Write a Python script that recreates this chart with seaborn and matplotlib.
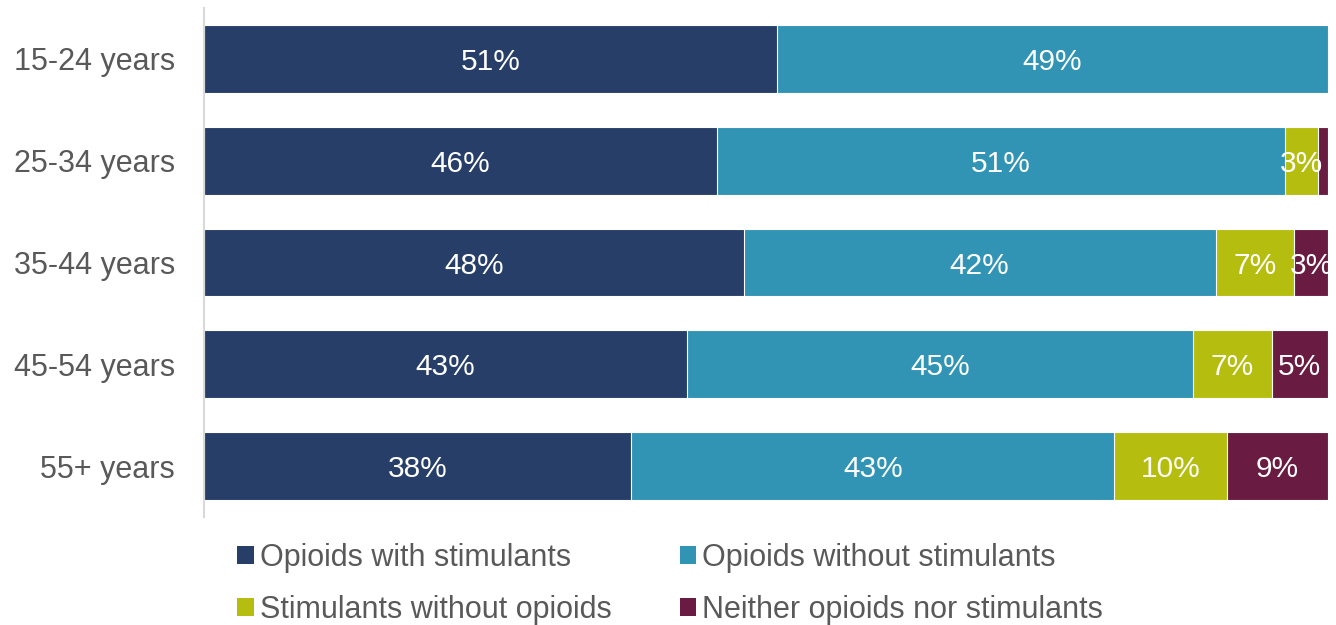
import matplotlib
matplotlib.use("Agg")
import matplotlib.pyplot as plt
from matplotlib.patches import Patch
import numpy as np
import pandas as pd
import seaborn as sns

# Share of deaths by substance involvement, per age group (percent)
age_groups = ["15-24 years", "25-34 years", "35-44 years", "45-54 years", "55+ years"]
series_names = [
    "Opioids with stimulants",
    "Opioids without stimulants",
    "Stimulants without opioids",
    "Neither opioids nor stimulants",
]
opioids_with_stim = [51, 45.6, 48, 43, 38]
opioids_without_stim = [49, 50.6, 42, 45, 43]
stim_without_opioids = [0, 2.9, 7, 7, 10]
neither = [0, 0.9, 3, 5, 9]

colors = ["#273E69", "#3194B4", "#B5BE0E", "#6A1B41"]
text_grey = "#595959"

sns.set_theme(style="white")
plt.rcParams["font.family"] = ["Liberation Sans", "DejaVu Sans"]

values = np.array([opioids_with_stim, opioids_without_stim, stim_without_opioids, neither])
cum = np.cumsum(values, axis=0)

fig = plt.figure(figsize=(13.36, 6.25), dpi=100)
ax = fig.add_axes([204 / 1336, 1 - 517 / 625, 1124 / 1336, 509 / 625])

# Stacked bars: draw cumulative totals from the outermost segment inward
for i in range(len(series_names) - 1, -1, -1):
    df = pd.DataFrame({"age": age_groups, "value": cum[i]})
    sns.barplot(data=df, x="value", y="age", orient="h", color=colors[i],
                saturation=1, width=0.667, edgecolor="white", linewidth=0.8, ax=ax)

# Segment labels
for i in range(len(series_names)):
    for j, age in enumerate(age_groups):
        v = values[i, j]
        if v < 2:
            continue
        center = cum[i, j] - v / 2
        ax.text(center, j + 0.03, f"{v:.0f}%", ha="center", va="center",
                color="white", fontsize=21.5)

ax.set_xlim(0, 100)
ax.set_ylim(4.5, -0.5)
ax.set_xlabel("")
ax.set_ylabel("")
ax.set_xticks([])
ax.tick_params(axis="y", length=0, pad=21, labelsize=22, labelcolor=text_grey)
for side in ["top", "right", "bottom"]:
    ax.spines[side].set_visible(False)
ax.spines["left"].set_color("#D9D9D9")
ax.spines["left"].set_linewidth(1.5)

# Legend filled row by row (matplotlib fills columns first)
order = [0, 2, 1, 3]
handles = [Patch(facecolor=colors[k], edgecolor="none") for k in order]
labels = [series_names[k] for k in order]
fig.legend(handles, labels, loc="upper left", ncol=2, frameon=False,
           bbox_to_anchor=(237 / 1336, 1 - 543 / 625), fontsize=22,
           labelcolor=text_grey, handlelength=0.54, handleheight=0.54,
           handletextpad=0.2, columnspacing=2.24, labelspacing=0.72,
           borderaxespad=0, borderpad=0)

fig.savefig("out.png", dpi=100)
